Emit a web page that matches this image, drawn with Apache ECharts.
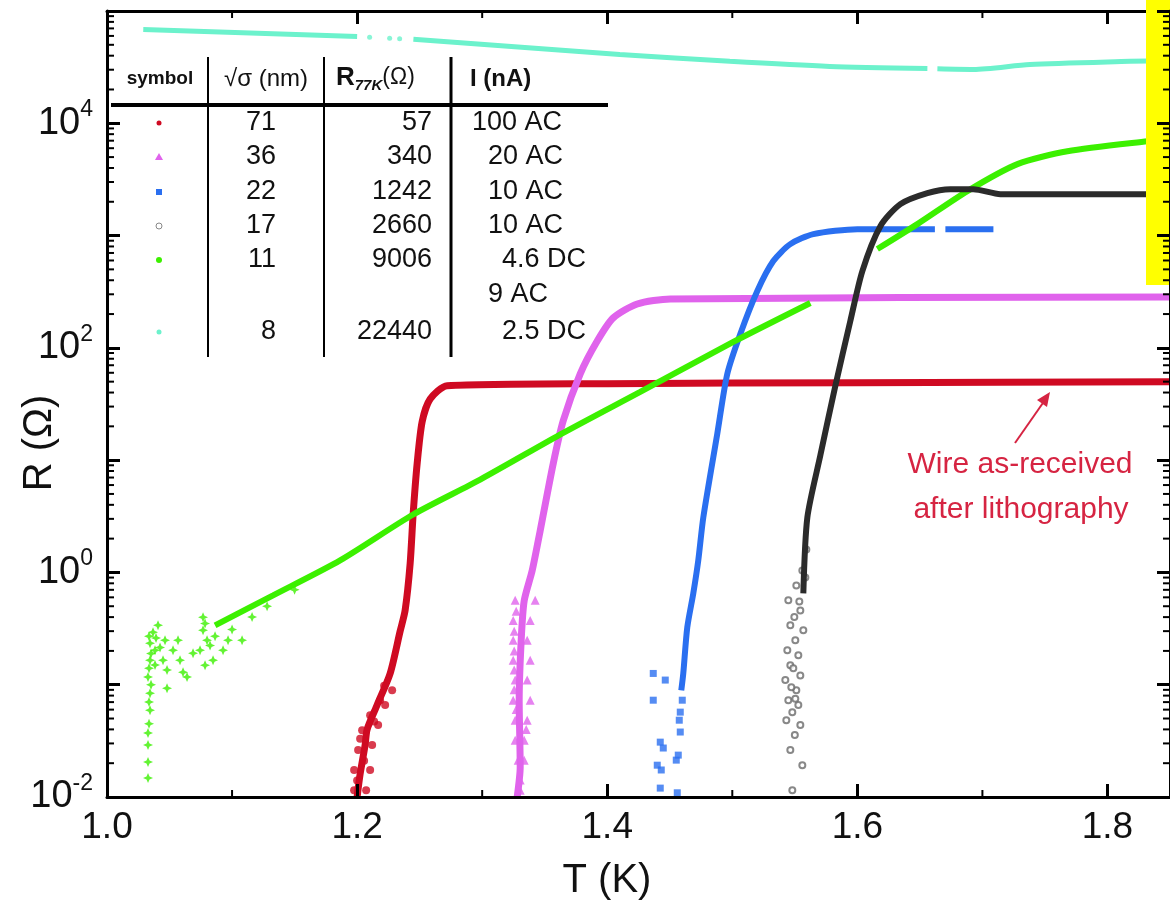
<!DOCTYPE html>
<html>
<head>
<meta charset="utf-8">
<script src="https://cdn.jsdelivr.net/npm/echarts@6/dist/echarts.min.js"></script>
<style>
  html, body { margin: 0; padding: 0; background: #fff; }
  #chart { width: 1170px; height: 904px; }
</style>
</head>
<body>
<div id="chart"></div>
<script>
// values: [T (K), R (ohm)]
var red = [[1.200, 0.010], [1.2024, 0.016], [1.2064, 0.029], [1.208, 0.040], [1.216, 0.066],
  [1.2264, 0.126], [1.2344, 0.30], [1.2384, 0.46], [1.2424, 1.2], [1.2448, 3.3], [1.248, 9.3],
  [1.252, 22], [1.2584, 35], [1.272, 46], [1.40, 48], [1.60, 49], [1.85, 50]];
var redNoise = [[1.1976, 0.0115], [1.2072, 0.0115], [1.1976, 0.0174], [1.2104, 0.0174], [1.2008, 0.0262],
  [1.212, 0.029], [1.204, 0.0394], [1.2168, 0.0437], [1.2104, 0.0536], [1.2224, 0.0658], [1.2184, 0.0728],
  [1.228, 0.0893], [1.2, 0.014], [1.2056, 0.021], [1.2024, 0.033], [1.2136, 0.047], [1.2216, 0.098]];

var pink = [[1.328, 0.010], [1.3304, 0.0185], [1.3296, 0.073], [1.3312, 0.249], [1.3336, 0.56],
  [1.340, 1.04], [1.3464, 2.36], [1.3568, 9.3], [1.3648, 22.4], [1.3784, 58.7], [1.392, 115],
  [1.4048, 185], [1.424, 246], [1.4504, 273], [1.85, 284]];
var pinkNoise = [[1.3264, 0.564], [1.3424, 0.564], [1.3248, 0.374], [1.3384, 0.374], [1.3248, 0.249],
  [1.336, 0.249], [1.3248, 0.165], [1.3384, 0.165], [1.3264, 0.11], [1.336, 0.11], [1.3248, 0.0728],
  [1.3384, 0.0728], [1.3264, 0.0483], [1.336, 0.0483], [1.3264, 0.032], [1.3336, 0.032],
  [1.3288, 0.0213], [1.3336, 0.0213], [1.3304, 0.0142], [1.3304, 0.0115], [1.3272, 0.45],
  [1.3256, 0.3], [1.3256, 0.2], [1.3256, 0.135], [1.3256, 0.09], [1.3272, 0.06], [1.3352, 0.04]];

var blue = [[1.4592, 0.089], [1.4608, 0.126], [1.464, 0.324], [1.4688, 0.65], [1.4728, 1.28],
  [1.4768, 3.08], [1.488, 17.2], [1.496, 58.7], [1.5064, 133], [1.52, 321], [1.5328, 593],
  [1.5464, 839], [1.5648, 1030], [1.60, 1140], [1.662, 1140], [1.666, '-'], [1.6704, 1140], [1.7088, 1140]];
var blueNoise = [[1.4368, 0.126], [1.4464, 0.11], [1.4368, 0.0728], [1.4424, 0.0308], [1.4448, 0.0273],
  [1.44, 0.0192], [1.4432, 0.0174], [1.4424, 0.012], [1.456, 0.0109], [1.4552, 0.0213], [1.4568, 0.0236],
  [1.4584, 0.0379], [1.4576, 0.0483], [1.4584, 0.057], [1.46, 0.0728]];

var black = [[1.5568, 0.65], [1.56, 3.08], [1.5704, 11.0], [1.5824, 45.9], [1.5944, 174],
  [1.604, 483], [1.6184, 1213], [1.6344, 1905], [1.656, 2388], [1.6744, 2588], [1.6928, 2588],
  [1.7144, 2339], [1.85, 2339]];
var blackNoise = [[1.548, 0.0115], [1.556, 0.0192], [1.5464, 0.0262], [1.55, 0.0356], [1.5544, 0.0437],
  [1.5432, 0.0483], [1.548, 0.057], [1.5528, 0.0658], [1.5448, 0.0728], [1.5512, 0.0893], [1.5424, 0.11],
  [1.5544, 0.121], [1.5464, 0.149], [1.5528, 0.183], [1.544, 0.203], [1.5504, 0.249], [1.5568, 0.305],
  [1.5464, 0.338], [1.5544, 0.459], [1.5448, 0.564], [1.5512, 0.766], [1.556, 1.04], [1.5496, 0.4],
  [1.5536, 0.55], [1.5488, 0.14], [1.5472, 0.095], [1.5504, 0.075], [1.5584, 0.9], [1.5592, 1.6]];

var greenLow = [[1.0864, 0.338], [1.1328, 0.625], [1.1864, 1.28], [1.2448, 3.28], [1.2984, 6.71],
  [1.3648, 17.5], [1.4264, 40.6], [1.5008, 113], [1.5624, 251]];
var greenHigh = [[1.616, 759], [1.648, 1265], [1.688, 2489], [1.728, 4325], [1.768, 5636],
  [1.832, 6918], [1.85, 7211]];
var greenNoise = [[1.0328, 0.0148], [1.0328, 0.0205], [1.0328, 0.029], [1.0328, 0.0371], [1.0344, 0.0593],
  [1.0344, 0.084], [1.0328, 0.117], [1.0344, 0.165], [1.0344, 0.234], [1.0368, 0.293], [1.0424, 0.215],
  [1.0448, 0.165], [1.048, 0.135], [1.0464, 0.249], [1.0528, 0.203], [1.0568, 0.249], [1.0584, 0.165],
  [1.0608, 0.129], [1.064, 0.117], [1.0688, 0.191], [1.048, 0.093], [1.0768, 0.398], [1.0768, 0.305],
  [1.08, 0.249], [1.0744, 0.203], [1.0824, 0.224], [1.0848, 0.165], [1.0784, 0.149], [1.0928, 0.203],
  [1.108, 0.249], [1.0968, 0.249], [1.0384, 0.203], [1.0408, 0.338], [1.0336, 0.045], [1.0336, 0.07],
  [1.0352, 0.1], [1.0336, 0.14], [1.0352, 0.19], [1.0336, 0.27], [1.0392, 0.26], [1.0384, 0.15],
  [1.0784, 0.35], [1.0864, 0.27], [1.1, 0.31], [1.116, 0.4], [1.128, 0.5], [1.15, 0.7]];

var cyan = [[1.029, 68500], [1.2, 59300], [1.22, '-'], [1.245, 55900], [1.41, 41000], [1.498, 35600],
  [1.578, 32100], [1.656, 30800], [1.66, '-'], [1.664, 30600], [1.693, 30200], [1.738, 33400],
  [1.818, 35600], [1.85, 36300]];
var cyanDots = [[1.21, 58500], [1.226, 57200], [1.234, 56600]];

// inset table
var tableSigma = ['71', '36', '22', '17', '11', '', '8'];
var tableR77 = ['57', '340', '1242', '2660', '9006', '', '22440'];
var tableI = ['100 AC', '20 AC', '10 AC', '10 AC', '4.6 DC', '9 AC', '2.5 DC'];
var xMinorTicks = [1.1, 1.3, 1.5, 1.7];

var FONT = 'Liberation Sans, Arial, sans-serif';
var C = { red: '#cf0a22', pink: '#e063ec', blue: '#2a6ff0', black: '#2b2b2b', green: '#3cf000', cyan: '#6cf2cc' };

var yMinorTicks = [];
for (var e = -2; e < 5; e++) {
  for (var m = 2; m <= 9; m++) yMinorTicks.push([1.0, m * Math.pow(10, e)]);
}

var chart = echarts.init(document.getElementById('chart'), null, { renderer: 'canvas' });

function axisX(pos) {
  return {
    type: 'value', position: pos, min: 1.0, max: 1.85, interval: 0.2,
    axisLine: { onZero: false, lineStyle: { color: '#000', width: 3 } },
    axisTick: { inside: true, length: 13, lineStyle: { color: '#000', width: 3 } },
    splitLine: { show: false },
    axisLabel: {
      show: pos === 'bottom', fontSize: 37, color: '#111', fontFamily: FONT, margin: 12,
      showMaxLabel: false, formatter: function (v) { return v.toFixed(1); }
    },
    z: pos === 'top' ? 0 : 10
  };
}

function axisY(pos) {
  return {
    type: 'log', logBase: 10, position: pos, min: 0.01, max: 100000, splitNumber: 7,
    axisLine: { onZero: false, lineStyle: { color: '#000', width: 3 } },
    axisTick: { inside: true, length: 13, lineStyle: { color: '#000', width: 3 } },
    splitLine: { show: false },
    axisLabel: {
      show: pos === 'left', margin: 14,
      formatter: function (v) {
        var p = Math.round(Math.log10(v));
        if (p % 2 !== 0) return '';
        return '{b|10}{s|' + p + '}';
      },
      rich: {
        b: { fontSize: 38, lineHeight: 50, color: '#111', fontFamily: FONT },
        s: { fontSize: 23, lineHeight: 23, verticalAlign: 'top', color: '#111', fontFamily: FONT }
      }
    },
    z: 60
  };
}

function lineSeries(data, color, width) {
  return {
    type: 'line', data: data, symbol: 'none', smooth: 0.25, connectNulls: false,
    lineStyle: { color: color, width: width }, silent: true
  };
}

function dotSeries(data, color, symbol, size) {
  return {
    type: 'scatter', data: data, symbol: symbol, symbolSize: size, silent: true,
    itemStyle: { color: color }
  };
}

// table graphics
var rowsY = [123, 157, 192, 226, 260, 295, 332];
var tableEls = [];
function txt(x, y, s, size, align, weight, rich) {
  tableEls.push({
    type: 'text', x: x, y: y, z: 100,
    style: { text: s, fontSize: size, fontFamily: FONT, fill: '#111', align: align,
      verticalAlign: 'middle', fontWeight: weight || 'normal', rich: rich }
  });
}
txt(160, 79, 'symbol', 19, 'center', 'bold');
txt(266, 79, '\u221A\u03C3 (nm)', 24, 'center');
txt(336, 78, '{r|R}{s|77K}{p|(\u03A9)}', 24, 'left', 'normal', {
  r: { fontSize: 26, fontWeight: 'bold', fontFamily: FONT, fill: '#111', lineHeight: 30 },
  s: { fontSize: 15, fontWeight: 'bold', fontStyle: 'italic', fontFamily: FONT, fill: '#111', lineHeight: 12, verticalAlign: 'bottom' },
  p: { fontSize: 23, fontFamily: FONT, fill: '#111', lineHeight: 30 }
});
txt(470, 79, 'I (nA)', 24, 'left', 'bold');
rowsY.forEach(function (y, i) {
  txt(276, y, tableSigma[i], 27, 'right');
  txt(432, y, tableR77[i], 27, 'right');
  txt(tableI[i].indexOf('DC') > 0 ? 502 : (tableI[i].length > 5 ? 472 : 488), y, tableI[i], 27, 'left');
});
tableEls.push({ type: 'line', z: 100, shape: { x1: 111, y1: 105, x2: 608, y2: 105 }, style: { stroke: '#000', lineWidth: 4 } });
[[208, 2], [324, 2], [451, 3]].forEach(function (v) {
  tableEls.push({ type: 'line', z: 100, shape: { x1: v[0], y1: 57, x2: v[0], y2: 357 }, style: { stroke: '#000', lineWidth: v[1] } });
});
// legend symbols
tableEls.push({ type: 'circle', z: 100, shape: { cx: 159, cy: rowsY[0], r: 2.5 }, style: { fill: C.red } });
tableEls.push({ type: 'polygon', z: 100, shape: { points: [[159, rowsY[1] - 4], [163, rowsY[1] + 3], [155, rowsY[1] + 3]] }, style: { fill: C.pink } });
tableEls.push({ type: 'rect', z: 100, shape: { x: 156, y: rowsY[2] - 3, width: 6, height: 6 }, style: { fill: C.blue } });
tableEls.push({ type: 'circle', z: 100, shape: { cx: 159, cy: rowsY[3], r: 3 }, style: { fill: '#fff', stroke: '#888', lineWidth: 1 } });
tableEls.push({ type: 'circle', z: 100, shape: { cx: 159, cy: rowsY[4], r: 3 }, style: { fill: C.green } });
tableEls.push({ type: 'circle', z: 100, shape: { cx: 159, cy: rowsY[6], r: 2.5 }, style: { fill: C.cyan } });

var graphics = tableEls.concat([
  { type: 'rect', z: 50, shape: { x: 1146, y: 0, width: 30, height: 285 }, style: { fill: '#ffff00' } },
  { type: 'text', z: 100, x: 40, y: 443, rotation: Math.PI / 2,
    style: { text: 'R (\u03A9)', fontSize: 40, fontFamily: FONT, fill: '#111', align: 'center', verticalAlign: 'middle' } },
  { type: 'text', z: 100, x: 607, y: 881,
    style: { text: 'T (K)', fontSize: 40, fontFamily: FONT, fill: '#111', align: 'center', verticalAlign: 'middle' } },
  { type: 'text', z: 100, x: 1020, y: 465,
    style: { text: 'Wire as-received', fontSize: 30, fontFamily: FONT, fill: '#d62442', align: 'center', verticalAlign: 'middle' } },
  { type: 'text', z: 100, x: 1021, y: 510,
    style: { text: 'after lithography', fontSize: 30, fontFamily: FONT, fill: '#d62442', align: 'center', verticalAlign: 'middle' } },
  { type: 'line', z: 100, shape: { x1: 1015, y1: 443, x2: 1045, y2: 400 }, style: { stroke: '#d62442', lineWidth: 2 } },
  { type: 'polygon', z: 100, shape: { points: [[1050, 392], [1047, 407], [1037, 400]] }, style: { fill: '#d62442' } }
]);

chart.setOption({
  animation: false,
  backgroundColor: '#fff',
  grid: { left: 107, right: -1, top: 11, bottom: 107, containLabel: false },
  xAxis: [axisX('bottom'), axisX('top')],
  yAxis: [axisY('left'), axisY('right')],
  graphic: graphics,
  series: [
    lineSeries(red, C.red, 7),
    dotSeries(redNoise, C.red, 'circle', 8),
    lineSeries(pink, C.pink, 7),
    dotSeries(pinkNoise, C.pink, 'triangle', 9),
    lineSeries(blue, C.blue, 6),
    dotSeries(blueNoise, C.blue, 'rect', 7),
    lineSeries(greenLow, C.green, 6),
    lineSeries(greenHigh, C.green, 6),
    dotSeries(greenNoise, C.green, 'path://M0,-1L0.3,-0.3L1,0L0.3,0.3L0,1L-0.3,0.3L-1,0L-0.3,-0.3Z', 10),
    lineSeries(black, C.black, 6),
    dotSeries(blackNoise, '#6a6a6a', 'emptyCircle', 6),
    lineSeries(cyan, C.cyan, 5),
    dotSeries(cyanDots, C.cyan, 'circle', 5),
    {
      // log minor ticks (2..9 per decade) on left and right axes
      type: 'custom', data: yMinorTicks, silent: true, clip: false, z: 60,
      renderItem: function (params, api) {
        var cs = params.coordSys;
        var y = api.coord([1.0, api.value(1)])[1];
        return { type: 'group', children: [
          { type: 'line', shape: { x1: cs.x, y1: y, x2: cs.x + 7, y2: y }, style: { stroke: '#000', lineWidth: 2 } },
          { type: 'line', shape: { x1: cs.x + cs.width - 7, y1: y, x2: cs.x + cs.width, y2: y }, style: { stroke: '#000', lineWidth: 2 } }
        ] };
      }
    },
    {
      // 0.1 K minor ticks top and bottom
      type: 'custom', data: xMinorTicks.map(function (t) { return [t, 1]; }), silent: true, clip: false, z: 10,
      renderItem: function (params, api) {
        var cs = params.coordSys;
        var x = api.coord([api.value(0), 1])[0];
        return { type: 'group', children: [
          { type: 'line', shape: { x1: x, y1: cs.y + cs.height, x2: x, y2: cs.y + cs.height - 7 }, style: { stroke: '#000', lineWidth: 2 } },
          { type: 'line', shape: { x1: x, y1: cs.y, x2: x, y2: cs.y + 7 }, style: { stroke: '#000', lineWidth: 2 } }
        ] };
      }
    }
  ]
});
</script>
</body>
</html>
